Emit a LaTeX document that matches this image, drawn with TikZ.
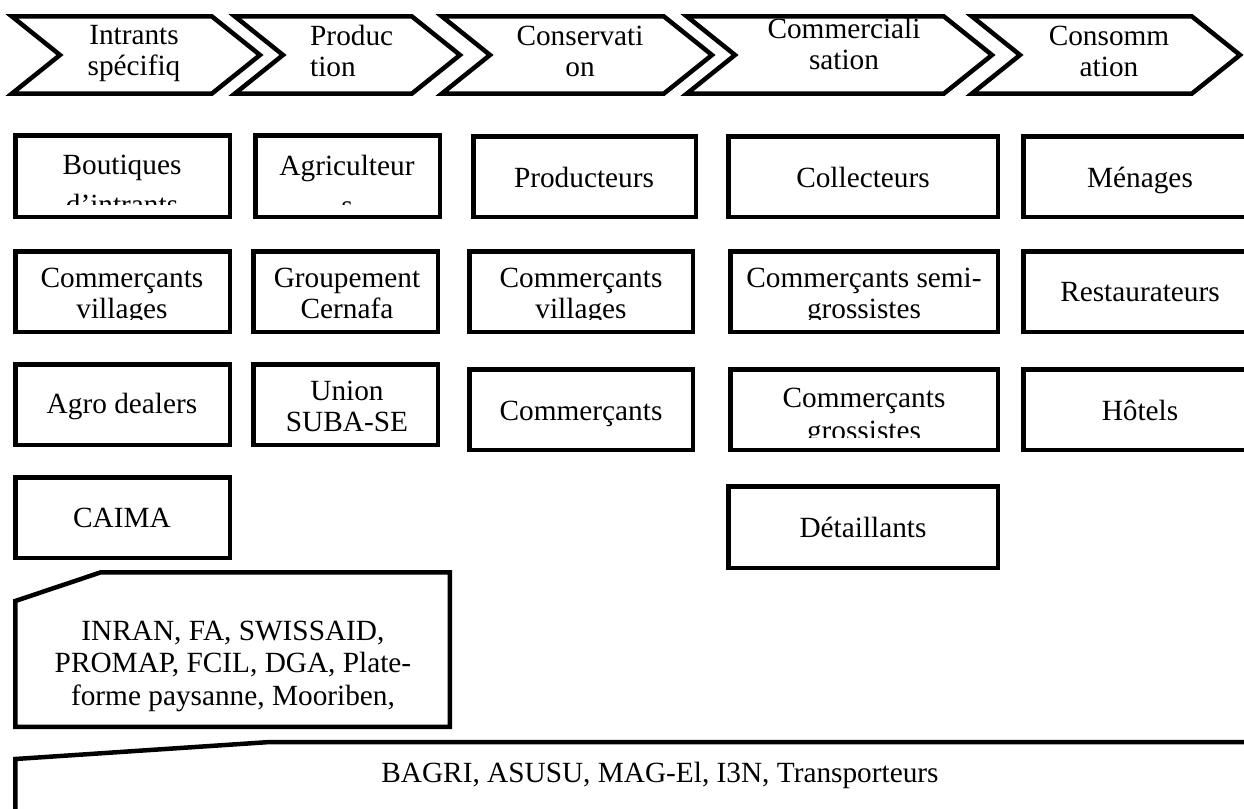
\documentclass[tikz,border=0pt]{standalone}
\usepackage{fontspec}
\setmainfont{Liberation Serif}
\usetikzlibrary{fit}

\tikzset{
  chev/.style={line width=4.5pt, line join=miter},
  actor/.style={draw, rectangle, line width=4.5pt, inner sep=0pt},
  lbl/.style={font=\fontsize{29.3pt}{31pt}\selectfont, inner sep=0pt, align=center}
}

\begin{document}
\begin{tikzpicture}[x=1pt,y=-1pt]
  \clip (0,0) rectangle (1244,808);

  % chain of stages
  \foreach \l/\n/\c/\t in {12/60/212/260, 235/283/412/460, 442/490/664/712, 687/735/944/992, 972/1020/1192/1240}
     \draw[chev] (\l,16.5) -- (\c,16.5) -- (\t,55) -- (\c,93.5) -- (\l,93.5) -- (\n,55) -- cycle;

  % base = last line
  \node[lbl,anchor=base] (intrants) at (134,75) {Intrants\\spécifiq};
  \node[lbl,anchor=base west,align=left] (production) at (310,76) {Produc\\tion};
  \node[lbl,anchor=base] (conservation) at (580,76) {Conservati\\on};
  \node[lbl,anchor=base] (commercialisation) at (844,70) {Commerciali\\sation};
  \node[lbl,anchor=base] (consommation) at (1109,76) {Consomm\\ation};

  % actors, text cut at the bottom of each box
  \foreach \nm/\xa/\ya/\xb/\yb/\xt/\yt/\txt in {
      b11/15.25/135.25/229.75/216.75/122/214/{Boutiques\\[9pt]d’intrants},
      b12/255.25/135.25/439.75/216.75/347/215/{Agriculteur\\[9pt]s},
      b13/473.25/136.25/695.75/216.75/584/187/{Producteurs},
      b14/728.25/136.25/997.75/216.75/863/187/{Collecteurs},
      b15/1023.25/136.25/1270/216.75/1140/187/{Ménages},
      b21/15.25/251.25/229.75/331.75/122/318/{Commerçants\\villages},
      b22/253.25/251.25/437.75/331.75/347/318/{Groupement\\Cernafa},
      b23/469.25/251.25/692.75/331.75/581/318/{Commerçants\\villages},
      b24/730.25/251.25/997.75/331.75/864/318/{Commerçants semi-\\grossistes},
      b25/1023.25/251.25/1270/331.75/1140/301/{Restaurateurs},
      b31/15.25/364.25/229.75/444.75/122/413/{Agro dealers},
      b32/253.25/364.25/437.75/444.75/347/431/{Union\\SUBA-SE},
      b33/469.25/369.25/692.75/449.75/581/420/{Commerçants},
      b34/730.25/369.25/997.75/449.75/864/440/{Commerçants\\[2pt]grossistes},
      b35/1023.25/369.25/1270/449.75/1140/420/{Hôtels},
      b41/15.25/477.25/229.75/557.75/122/527/{CAIMA},
      b44/728.25/486.25/997.75/567.75/863/537/{Détaillants}}
  {
     \node[actor, fit={(\xa,\ya) (\xb,\yb)}] (\nm) {};
     \begin{scope}
       \clip (\nm.north west) rectangle ([yshift=15pt]\nm.south east);
       \node[lbl,anchor=base] (\nm-txt) at (\xt,\yt) {\txt};
     \end{scope}
  }

  % support structures
  \draw[chev] (15.25,601) -- (101,572.25) -- (449.75,572.25) -- (449.75,726.75) -- (15.25,726.75) -- cycle;
  \node[lbl,anchor=base] (appui) at (233,705) {INRAN, FA, SWISSAID,\\[1.5pt]PROMAP, FCIL, DGA, Plate-\\[1.5pt]forme paysanne, Mooriben,};

  \draw[chev] (15.25,830) -- (15.25,759) -- (270,742) -- (1270,742) -- (1270,830);
  \node[lbl,anchor=base] (services) at (660,782) {BAGRI, ASUSU, MAG-El, I3N, Transporteurs};
\end{tikzpicture}
\end{document}
